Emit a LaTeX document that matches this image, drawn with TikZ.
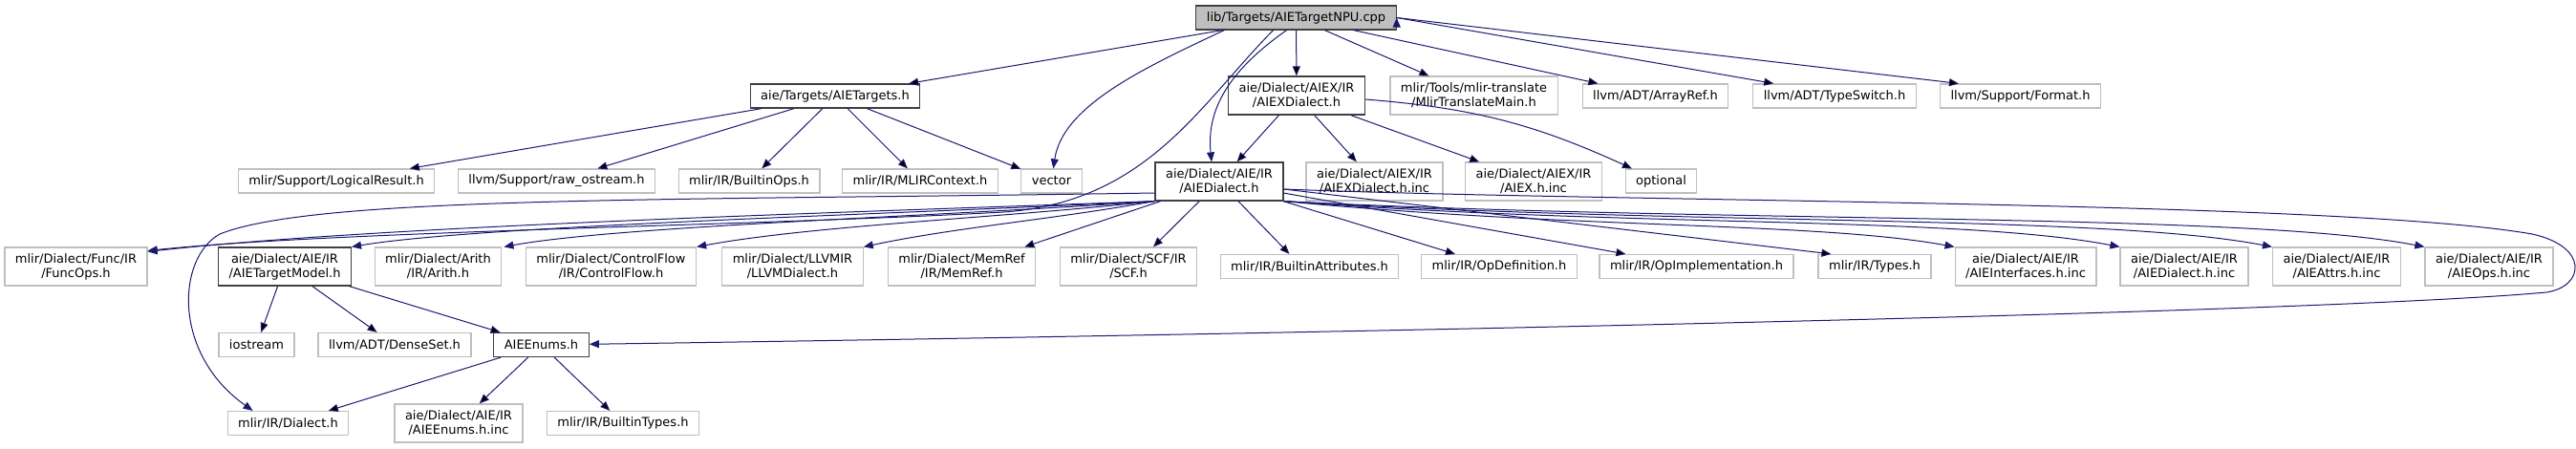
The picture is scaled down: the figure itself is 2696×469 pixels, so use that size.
\documentclass[tikz,border=0pt]{standalone}
\usepackage{fontspec}
\setmainfont{DejaVu Sans}
\usepackage{tikz}
\usetikzlibrary{arrows.meta}
\definecolor{edgeblue}{HTML}{191970}
\definecolor{leafgray}{HTML}{BFBFBF}
\definecolor{docgray}{HTML}{404040}
\definecolor{rootgray}{HTML}{BFBFBF}

\begin{document}
\begin{tikzpicture}[x=1pt,y=-1pt]

  \tikzstyle{every node}=[font=\fontsize{13}{15}\selectfont,align=center,inner xsep=11pt,inner ysep=0pt,minimum height=25pt,line width=1.2pt]
  \tikzstyle{leafbox}=[draw=leafgray,fill=white]
  \tikzstyle{docbox}=[draw=docgray,fill=white]
  \tikzstyle{rootbox}=[draw=docgray,fill=rootgray]
  \tikzstyle{twoline}=[minimum height=40pt]
  \tikzstyle{dep}=[draw=edgeblue,line width=1pt,-{Triangle[length=10pt,width=8pt]}]
  \useasboundingbox (0,0) rectangle (2696,469);

  \node at (1356.5,18.5)[rootbox](main){lib/Targets/AIETargetNPU.cpp};
  \node at (874,100.5)[docbox](tgts){aie/Targets/AIETargets.h};
  \node at (1357,100)[docbox,twoline](aiexd){aie/Dialect/AIEX/IR\\/AIEXDialect.h};
  \node at (1542.5,100)[leafbox,twoline](mtm){mlir/Tools/mlir-translate\\/MlirTranslateMain.h};
  \node at (1732.5,100.5)[leafbox](arrayref){llvm/ADT/ArrayRef.h};
  \node at (1920,100.5)[leafbox](typesw){llvm/ADT/TypeSwitch.h};
  \node at (2114.5,100.5)[leafbox](format){llvm/Support/Format.h};

  \node at (352,189.5)[leafbox](logres){mlir/Support/LogicalResult.h};
  \node at (582.5,189.5)[leafbox](rawos){llvm/Support/raw\_ostream.h};
  \node at (784,189.5)[leafbox](bops){mlir/IR/BuiltinOps.h};
  \node at (963,189.5)[leafbox](mctx){mlir/IR/MLIRContext.h};
  \node at (1100.5,189.5)[leafbox](vector){vector};
  \node at (1276,190)[docbox,twoline](aied){aie/Dialect/AIE/IR\\/AIEDialect.h};
  \node at (1438.5,190)[leafbox,twoline](aiexinc){aie/Dialect/AIEX/IR\\/AIEXDialect.h.inc};
  \node at (1605,190)[leafbox,twoline](aiexhinc){aie/Dialect/AIEX/IR\\/AIEX.h.inc};
  \node at (1738.5,189.5)[leafbox](optional){optional};

  \node at (79.5,279)[leafbox,twoline](funcops){mlir/Dialect/Func/IR\\/FuncOps.h};
  \node at (298,279)[docbox,twoline](tmodel){aie/Dialect/AIE/IR\\/AIETargetModel.h};
  \node at (458.5,279)[leafbox,twoline](arith){mlir/Dialect/Arith\\/IR/Arith.h};
  \node at (639.5,279)[leafbox,twoline](cflow){mlir/Dialect/ControlFlow\\/IR/ControlFlow.h};
  \node at (829.5,279)[leafbox,twoline](llvmd){mlir/Dialect/LLVMIR\\/LLVMDialect.h};
  \node at (1006.5,279)[leafbox,twoline](memref){mlir/Dialect/MemRef\\/IR/MemRef.h};
  \node at (1181,279)[leafbox,twoline](scf){mlir/Dialect/SCF/IR\\/SCF.h};
  \node at (1370.5,279)[leafbox](battr){mlir/IR/BuiltinAttributes.h};
  \node at (1569,279)[leafbox](opdef){mlir/IR/OpDefinition.h};
  \node at (1775.5,279)[leafbox](opimpl){mlir/IR/OpImplementation.h};
  \node at (1962,279)[leafbox](types){mlir/IR/Types.h};
  \node at (2120,279)[leafbox,twoline](ifinc){aie/Dialect/AIE/IR\\/AIEInterfaces.h.inc};
  \node at (2286,279)[leafbox,twoline](dinc){aie/Dialect/AIE/IR\\/AIEDialect.h.inc};
  \node at (2445.5,279)[leafbox,twoline](attrinc){aie/Dialect/AIE/IR\\/AIEAttrs.h.inc};
  \node at (2605,279)[leafbox,twoline](opsinc){aie/Dialect/AIE/IR\\/AIEOps.h.inc};

  \node at (268.5,361)[leafbox](iostream){iostream};
  \node at (413,361)[leafbox](denseset){llvm/ADT/DenseSet.h};
  \node at (566.5,361)[docbox](aienums){AIEEnums.h};

  \node at (301.5,443)[leafbox](dialect){mlir/IR/Dialect.h};
  \node at (480,443)[leafbox,twoline](enumsinc){aie/Dialect/AIE/IR\\/AIEEnums.h.inc};
  \node at (652,443)[leafbox](btypes){mlir/IR/BuiltinTypes.h};

  \path[dep](main)edge(tgts)edge(aiexd)edge(mtm)edge(arrayref);
  \path[dep](main.east)edge([xshift=22pt]typesw.north west)edge([xshift=20pt]format.north west);
  \draw[dep]([xshift=30pt]main.south west) .. controls (1200,70) and (1112,110) .. (vector);
  \draw[dep]([xshift=-10pt]main.south) .. controls (1292,70) and (1262,110) .. ([xshift=-8pt]aied.north);
  \draw[dep]([xshift=-24pt]main.south) .. controls (1255,110) and (1200,212) .. (1050,222) .. controls (800,236) and (350,242) .. ([yshift=-4pt]funcops.north east);

  \path[dep](tgts)edge(logres)edge(rawos)edge(bops)edge(mctx)edge(vector);
  \path[dep](aiexd)edge(aied)edge(aiexinc)edge(aiexhinc)edge[bend left=10](optional);

  \draw[dep](aied.south west) .. controls (900,222) and (400,236) .. ([yshift=-5pt]funcops.north east);
  \draw[dep](aied.south west) .. controls (950,224) and (500,236) .. (tmodel.north east);
  \draw[dep](aied.south west) .. controls (1000,226) and (650,236) .. ([xshift=2pt]arith.north east);
  \draw[dep](aied.south west) .. controls (1050,228) and (850,236) .. (cflow.north east);
  \draw[dep](aied.south west) .. controls (1100,230) and (1000,238) .. (llvmd.north east);
  \path[dep](aied)edge([xshift=-12pt]memref.north east)edge([xshift=26pt]scf.north)edge([xshift=-21pt]battr.north)edge([xshift=-46pt]opdef.north)edge([xshift=28pt]opimpl.north west)edge([xshift=14pt]types.north west);
  \draw[dep](aied.south east) .. controls (1650,240) and (1900,232) .. (ifinc.north west);
  \draw[dep](aied.south east) .. controls (1700,238) and (2050,226) .. (dinc.north west);
  \draw[dep](aied.south east) .. controls (1750,236) and (2200,224) .. (attrinc.north west);
  \draw[dep](aied.south east) .. controls (1800,234) and (2350,222) .. (opsinc.north west);
  \draw[dep]([yshift=-8pt]aied.east) .. controls (1700,212) and (2450,210) .. (2650,245) .. controls (2710,258) and (2705,300) .. (2665,306) .. controls (2400,330) and (1200,352) .. (aienums);
  \draw[dep]([yshift=-12pt]aied.west) .. controls (700,210) and (330,205) .. (230,245) .. controls (185,270) and (180,370) .. ([xshift=27pt]dialect.north west);

  \path[dep](tmodel)edge(iostream)edge(denseset)edge(aienums);
  \path[dep](aienums)edge(dialect)edge(enumsinc)edge(btypes);

\end{tikzpicture}
\end{document}
